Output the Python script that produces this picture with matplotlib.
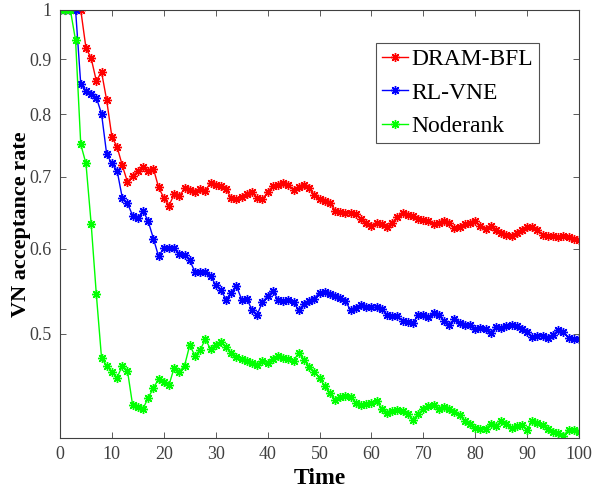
import numpy as np
import matplotlib
matplotlib.use("Agg")
import matplotlib.pyplot as plt
from matplotlib.ticker import FixedLocator, FixedFormatter, NullLocator

plt.rcParams['font.family'] = ['Liberation Serif', 'DejaVu Serif']

time = np.arange(0, 101)

dram_bfl = [1, 1, 1, 1, 1, 0.922, 0.902, 0.859, 0.876, 0.824,
            0.762, 0.746, 0.717, 0.692, 0.701, 0.708, 0.714, 0.708, 0.712, 0.684,
            0.669, 0.658, 0.674, 0.671, 0.683, 0.680, 0.677, 0.682, 0.679, 0.691,
            0.688, 0.686, 0.682, 0.668, 0.667, 0.670, 0.675, 0.677, 0.668, 0.667,
            0.677, 0.686, 0.688, 0.690, 0.688, 0.680, 0.685, 0.687, 0.683, 0.673,
            0.667, 0.664, 0.662, 0.651, 0.649, 0.648, 0.648, 0.646, 0.639, 0.634,
            0.630, 0.634, 0.633, 0.628, 0.634, 0.642, 0.648, 0.645, 0.644, 0.639,
            0.638, 0.636, 0.633, 0.634, 0.636, 0.634, 0.627, 0.629, 0.632, 0.634,
            0.636, 0.630, 0.626, 0.630, 0.625, 0.620, 0.618, 0.616, 0.620, 0.625,
            0.629, 0.628, 0.625, 0.618, 0.617, 0.616, 0.615, 0.617, 0.615, 0.612,
            0.611]

rl_vne = [1, 1, 1, 1, 0.853, 0.841, 0.835, 0.829, 0.801, 0.734,
          0.720, 0.709, 0.669, 0.661, 0.644, 0.640, 0.651, 0.636, 0.613, 0.590,
          0.601, 0.601, 0.601, 0.593, 0.592, 0.585, 0.571, 0.571, 0.571, 0.566,
          0.555, 0.549, 0.538, 0.546, 0.554, 0.538, 0.539, 0.526, 0.521, 0.535,
          0.542, 0.548, 0.538, 0.536, 0.537, 0.535, 0.526, 0.533, 0.536, 0.539,
          0.546, 0.547, 0.544, 0.542, 0.540, 0.536, 0.526, 0.528, 0.532, 0.530,
          0.529, 0.529, 0.527, 0.521, 0.519, 0.519, 0.514, 0.513, 0.512, 0.520,
          0.521, 0.518, 0.523, 0.521, 0.514, 0.510, 0.516, 0.512, 0.509, 0.509,
          0.505, 0.506, 0.505, 0.501, 0.507, 0.506, 0.508, 0.509, 0.508, 0.505,
          0.502, 0.497, 0.498, 0.498, 0.496, 0.499, 0.504, 0.502, 0.496, 0.494,
          0.494]

noderank = [1, 1, 1, 0.937, 0.750, 0.720, 0.633, 0.544, 0.475, 0.467,
            0.461, 0.455, 0.467, 0.462, 0.429, 0.427, 0.426, 0.436, 0.445, 0.454,
            0.451, 0.448, 0.465, 0.461, 0.467, 0.488, 0.477, 0.483, 0.494, 0.484,
            0.488, 0.491, 0.486, 0.480, 0.476, 0.474, 0.472, 0.470, 0.468, 0.472,
            0.470, 0.474, 0.477, 0.475, 0.474, 0.472, 0.480, 0.473, 0.466, 0.461,
            0.455, 0.447, 0.440, 0.434, 0.437, 0.438, 0.437, 0.431, 0.429, 0.430,
            0.431, 0.433, 0.426, 0.422, 0.424, 0.425, 0.424, 0.421, 0.416, 0.421,
            0.426, 0.428, 0.429, 0.426, 0.427, 0.426, 0.423, 0.420, 0.415, 0.412,
            0.409, 0.408, 0.408, 0.412, 0.410, 0.415, 0.412, 0.409, 0.410, 0.411,
            0.407, 0.415, 0.413, 0.411, 0.408, 0.405, 0.404, 0.402, 0.407, 0.407,
            0.405]

yticks = [0.5, 0.6, 0.7, 0.8, 0.9, 1]
ytick_labels = ['0.5', '0.6', '0.7', '0.8', '0.9', '1']
xticks = list(range(0, 101, 10))

fig = plt.figure(figsize=(5.93, 4.92), dpi=100)
ax = fig.add_axes([60 / 593, 54 / 492, 519 / 593, 428 / 492])

star = (8, 2, 0)  # asterisk marker
ax.plot(time, dram_bfl, color='r', marker=star, markersize=6.5, lw=1, label='DRAM-BFL')
ax.plot(time, rl_vne, color='b', marker=star, markersize=6.5, lw=1, label='RL-VNE')
ax.plot(time, noderank, color='#00ff00', marker=star, markersize=6.5, lw=1, label='Noderank')

ax.set_yscale('log')
ax.set_xlim(0, 100)
ax.set_ylim(0.4, 1)
ax.yaxis.set_major_locator(FixedLocator(yticks))
ax.yaxis.set_major_formatter(FixedFormatter(ytick_labels))
ax.yaxis.set_minor_locator(NullLocator())
ax.set_xticks(xticks)

axcol = '#404040'
for s in ax.spines.values():
    s.set_color(axcol)
    s.set_linewidth(0.8)
ax.tick_params(direction='in', top=True, right=True, length=4, width=0.6,
               colors=axcol, labelsize=13, pad=6)

ax.set_xlabel('Time', fontsize=17, fontweight='bold', labelpad=3)
ax.set_ylabel('VN acceptance rate', fontsize=16, fontweight='bold', labelpad=-1)

leg = ax.legend(loc='upper right', bbox_to_anchor=(539 / 593, 1 - 43 / 492),
                bbox_transform=fig.transFigure, fontsize=17, frameon=True,
                fancybox=False, handlelength=1.1, handletextpad=0.15,
                borderpad=0.25, labelspacing=0.5, borderaxespad=0)
leg.get_frame().set_edgecolor('#262626')
leg.get_frame().set_linewidth(0.8)

fig.savefig('out.png', dpi=100)
